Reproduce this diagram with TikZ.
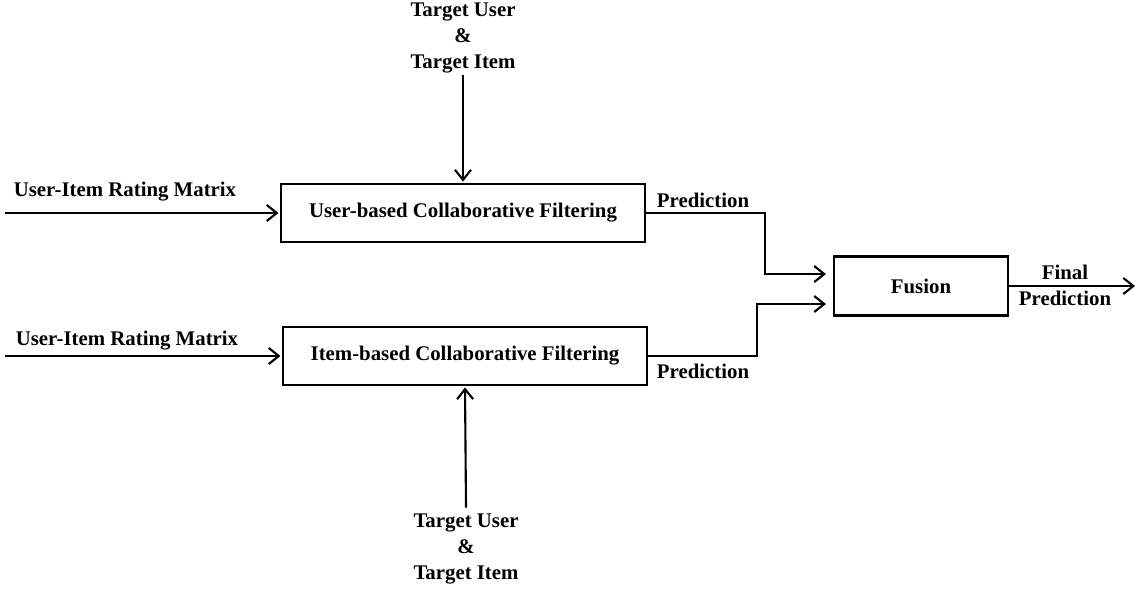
\documentclass[tikz,border=0pt]{standalone}
\usepackage{fontspec}
\setmainfont{Liberation Serif}
\usepackage{tikz}
\usetikzlibrary{arrows.meta,positioning}

\begin{document}
\begin{tikzpicture}[x=0.025cm,y=-0.025cm,
  font=\fontsize{14.8}{18.5}\selectfont\bfseries,
  every node/.style={inner sep=0pt},
  box/.style={draw,line width=1.5pt,minimum width=9.1cm,minimum height=1.45cm},
  arr/.style={line width=1.5pt,-{Straight Barb[length=0.25cm,width=0.4cm,line width=1.5pt]}},
  lbl/.style={align=center}]
\useasboundingbox (0,0) rectangle (1141,590);
\node [box] (ubcf) at (463,213) {User-based Collaborative Filtering};
\node [box] (ibcf) at (465,356) {Item-based Collaborative Filtering};
\node [box,minimum width=4.35cm,minimum height=1.475cm] (fusion) at (921,286) {Fusion};
\node [lbl] (tgt1) at (463,38) {Target User\\\&\\Target Item};
\node [lbl] (tgt2) at (466,549) {Target User\\\&\\Target Item};
\node (mat1) at (125,192) {User-Item Rating Matrix};
\node (mat2) at (127,341) {User-Item Rating Matrix};
\node (pred1) at (703,200) {Prediction};
\node (pred2) at (703,371) {Prediction};
\node [lbl] (final) at (1065,285) {Final\\Prediction};
\coordinate (in1) at (5,213);
\coordinate (in2) at (5,356);
\coordinate (fin1) at ([shift={(-7,-12)}]fusion.west);
\coordinate (fin2) at ([shift={(-7,18)}]fusion.west);
\coordinate (out) at (1135,286);
\draw [arr] (tgt1.south) ++(0,2) -- ([yshift=1pt]ubcf.north);
\draw [arr] (tgt2.north) ++(0,-6) -- ([yshift=-1pt]ibcf.south);
\draw [arr] (in1) -- ([xshift=-1pt]ubcf.west);
\draw [arr] (in2) -- ([xshift=-1pt]ibcf.west);
\draw [arr] (ubcf.east) -- ++(119,0) |- (fin1);
\draw [arr] (ibcf.east) -- ++(109,0) |- (fin2);
\draw [arr] (fusion.east) -- (out);
\end{tikzpicture}
\end{document}
